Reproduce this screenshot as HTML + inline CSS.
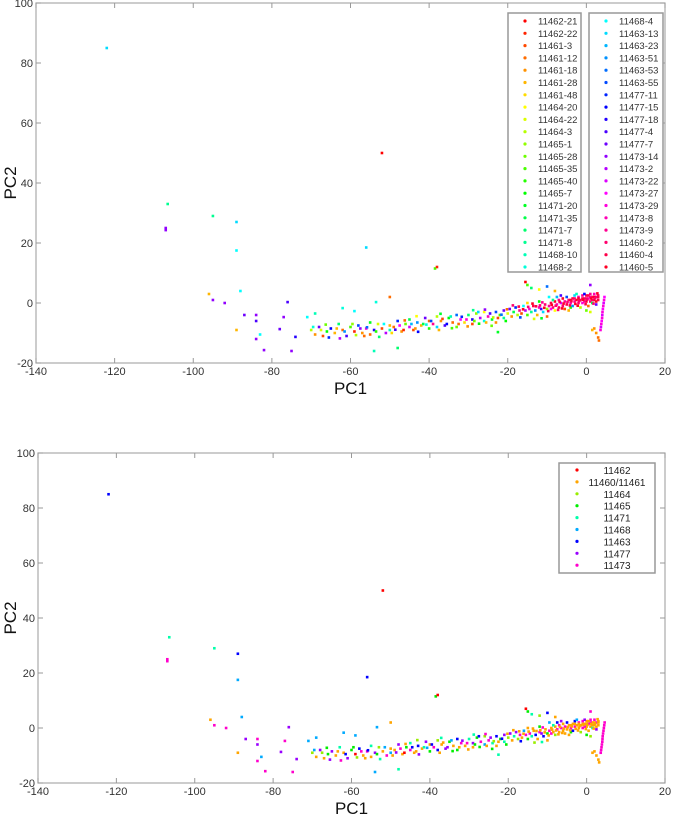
<!DOCTYPE html>
<html><head><meta charset="utf-8"><style>
html,body{margin:0;padding:0;background:#fff;}
svg{display:block;font-family:"Liberation Sans",sans-serif;}
</style></head><body>
<svg id="s" width="676" height="821" xmlns="http://www.w3.org/2000/svg"></svg>
<script>
const sampleNames=["11462-21","11462-22","11461-3","11461-12","11461-18","11461-28","11461-48","11464-20","11464-22","11464-3","11465-1","11465-28","11465-35","11465-40","11465-7","11471-20","11471-35","11471-7","11471-8","11468-10","11468-2","11468-4","11463-13","11463-23","11463-51","11463-53","11463-55","11477-11","11477-15","11477-18","11477-4","11477-7","11473-14","11473-2","11473-22","11473-27","11473-29","11473-8","11473-9","11460-2","11460-4","11460-5"];
const groupNames=["11462","11460/11461","11464","11465","11471","11468","11463","11477","11473"];
const groupColors=["#ff0000","#ffa500","#99ee00","#00ee00","#00ffaa","#00aaff","#0000ff","#9900ff","#ff00cc"];
const sampleGroup=[0,0,1,1,1,1,1,2,2,2,3,3,3,3,3,4,4,4,4,5,5,5,6,6,6,6,6,7,7,7,7,7,8,8,8,8,8,8,8,1,1,1];
const xTicks=[-140,-120,-100,-80,-60,-40,-20,0,20];
const yTicks=[-20,0,20,40,60,80,100];
const pts=[
[-122,85,22],[-106.5,33,18],[-107,25,32],[-107,24.3,32],[-95,29,18],[-89,27,22],[-89,17.5,21],[-88,4,21],[-96,3,5],[-95,1,32],[-92,0,32],[-84,-4,32],[-89,-9,5],[-84,-12,32],[-83,-10.5,21],
[-52,50,0],[-56,18.5,22],[-38.5,11.5,12],[-38,12,1],
[-87,-4,31],[-84,-6,30],[-82,-15.7,32],[-78,-8.7,31],[-77,-4.7,32],[-76,0.3,30],[-74,-11.3,29],[-75,-16,32],[-71,-4.7,21],[-69,-3.5,19],[-62,-1.7,20],[-59,-2.7,21],[-53.5,0.3,20],[-50,2,3],[-54,-16,19],[-48,-15,17],[-22.5,-9.7,15],
[-70,-9,9],[-69,-10.5,4],[-68,-8,31],[-67,-11,2],[-66,-9.5,14],[-65,-8.5,28],[-64,-10,5],[-63,-7,17],[-62,-9,3],[-61,-11,30],[-60,-8,12],[-59,-9.5,1],[-58,-7.5,26],[-57,-10,4],[-56,-8.5,36],[-55,-6.5,15],[-55,-10.5,3],[-54,-9,29],[-53,-7,8],[-52,-8.5,2],[-51,-10,33],[-50,-7.5,5],[-50,-9,19],[-49,-8,3],[-48,-6,27],[-47,-9.5,4],[-46,-7,11],[-45,-8,34],[-45,-5.5,16],[-44,-9,2],[-43,-6.5,24],[-42,-7.5,5],[-41,-5,31],[-40,-8.5,13],[-40,-6,3],[-39,-7,38],[-38,-4.5,9],[-38,-8,22],[-37,-6,4],[-36,-7.5,30],[-35,-5,14],[-34,-6.5,3],[-33,-4,25],[-33,-8,11],[-32,-5.5,35],[-31,-6.5,6],[-30,-4,17],[-29,-5.5,29],[-29,-7,2],[-28,-3.5,10],[-27,-5,33],[-26,-6,20],[-26,-3,7],[-25,-4.5,37],[-24,-5.5,15],[-23,-3,26],[-23,-6.5,4],[-22,-4,12],[-21,-2.5,31],[-21,-5,18],[-20,-3.5,8],
[-69.5,-8,20],[-67.5,-9,8],[-65.5,-11.5,27],[-63.5,-8.5,5],[-61.5,-9.5,24],[-59.5,-7,10],[-57.5,-8.5,32],[-56.5,-11,3],[-53.5,-9.5,13],[-51.5,-7,21],[-49.5,-10,6],[-47.5,-7.5,35],[-46.5,-9,1],[-44.5,-7,23],[-43.5,-8.5,4],[-41.5,-7,16],[-39.5,-6,26],[-37.5,-9,5],[-35.5,-7,28],[-34.5,-4.5,19],[-32.5,-7,3],[-30.5,-5.5,36],[-28.5,-6,11],[-27.5,-3,22],[-25.5,-6.5,5],[-24.5,-3.5,30],[-22.5,-5,2],[-20.5,-6,14],
[-66.3,-7.2,11],[-62.7,-11.8,33],[-58.6,-10.7,9],[-55.8,-8.1,25],[-52.7,-11.3,17],[-48.6,-8.9,30],[-46.2,-5.8,3],[-42.8,-9.6,28],[-40.7,-7.2,20],[-36.6,-5.3,2],[-34.2,-8.4,12],[-31.7,-4.6,27],[-30.2,-7.8,4],[-27.3,-6.9,14],[-25.8,-2.2,32],[-23.7,-4.8,9],[-21.6,-3.9,25],[-20.2,-2.1,3],[-43.2,-4.4,7],[-37.1,-3.6,15],[-28.8,-2.4,18],[-24.1,-7.6,11],
[-19.5,-2,31],[-19,-4.5,4],[-18.5,-3,16],[-18,-1.5,27],[-17.5,-4,9],[-17,-2.5,38],[-16.5,-3.5,2],[-16,-1,21],[-15.5,-2.5,33],[-15,-4,12],[-15,0,6],[-14.5,-2,36],[-14,-3,18],[-13.5,-1,40],[-13,-2.5,24],[-12.5,-4,5],[-12,-1.5,37],[-12,0.5,14],[-11.5,-2,30],[-11,-3,22],[-10.5,-0.5,39],[-10,-2,10],[-10,-4.5,3],
[-18.7,-0.8,39],[-17.2,-1.2,40],[-16.1,-2.1,41],[-14.8,-1.3,39],[-13.7,-0.2,41],[-12.8,-1.1,40],[-11.8,-0.8,39],[-11.2,0.2,38],[-10.7,-1.6,41],[-16.8,-4.8,26],[-13.3,-5.3,8],[-11.4,-5.1,15],
[-9.5,-1,38],[-9,0,40],[-9,-2,35],[-8.5,-1.5,39],[-8,0.5,41],[-8,-2.5,7],[-7.5,-0.5,37],[-7,1,38],[-7,-1.5,40],[-6.5,0,34],[-6,-1,39],[-6,1.5,41],[-5.5,0.5,38],[-5,-0.5,40],[-5,2,26],[-4.5,1,39],[-4,0,37],[-4,-1.5,13],[-3.5,1.5,40],[-3,0.5,38],[-3,2.5,22],[-2.5,1,41],[-2,0,39],[-2,2,37],[-1.5,1,40],[-1,2.5,38],[-1,0,36],[-0.5,1.5,39],[0,0.5,41],[0,2.5,40],[0.5,1.5,37],[1,3,38],[1,0.5,39],[1.5,2,40],[2,1,41],[2,3,37],[2.5,2,38],[3,1,40],[3,2.5,39],[-8.5,1,18],[-6.5,2.5,30],[-4.5,-2.5,5],[-3.5,-1,24],[-2.5,3,19],[-1.5,-1.5,9],[-0.5,3,28],[0.5,-1,3],[1.5,0,16],[2.5,-0.5,31],[-5.5,-2,2],[-7.5,2,23],[0,-2.5,11],[1,-3,8],[-9.5,2,21],
[-2,1.5,41],[-1,1.5,40],[0,1.5,39],[1,2,38],[2,2,41],[3,2,40],[-3,1.5,39],[-4,1,41],[0.5,2.5,40],[1.5,1,39],[2.5,0.5,41],[-0.5,0.5,38],
[-8.8,-0.6,41],[-7.8,-0.9,39],[-6.8,0.4,40],[-5.8,-0.2,41],[-4.8,0.3,39],[-3.8,0.6,40],[-2.8,-0.3,41],[-1.8,0.7,39],[-0.8,1.1,41],[0.2,1.1,39],[1.2,1.5,41],[2.2,1.6,39],[2.8,3.2,41],[-6.2,-1.8,41],[-4.2,-0.8,40],[-2.2,-0.9,41],[-0.2,-0.4,40],[1.8,-0.2,39],[-7.2,-2.3,39],[-9.7,-2.7,40],
[3.6,-9,36],[3.7,-8,34],[3.8,-7,36],[3.9,-6,35],[4,-5,36],[4.05,-4,34],[4.1,-3,36],[4.2,-2,35],[4.3,-1,36],[4.4,0,34],[4.5,1,36],[4.6,2,35],
[2,-8.5,4],[2.5,-10,4],[3,-11.5,3],[3.2,-12.5,3],[1.5,-9,5],
[-15.5,7,0],[-15,6,12],[-10,5.5,25],[-14,5,17],[-8,4,5],[1,6,32],[-12,4.5,7]
];
const NS="http://www.w3.org/2000/svg";
const svg=document.getElementById('s');
function mk(tag,attrs,parent){const e=document.createElementNS(NS,tag);for(const k in attrs)e.setAttribute(k,attrs[k]);(parent||svg).appendChild(e);return e;}
function sampleColor(i){return "hsl("+(i*360/42)+",100%,50%)";}
function drawPlot(cfg){
  const g=mk('g',{});
  
  
  const xs=v=>cfg.l+(v+140)/160*(cfg.r-cfg.l);
  const ys=v=>cfg.b-(v+20)/120*(cfg.b-cfg.t);
  const frame=mk('rect',{x:cfg.l,y:cfg.t,width:cfg.r-cfg.l,height:cfg.b-cfg.t,fill:'none',stroke:'#aaa','stroke-width':1.2},g);
  
  
  xTicks.forEach(v=>{
    const x=xs(v);
    mk('line',{x1:x,y1:cfg.b,x2:x,y2:cfg.b-5,stroke:'#999'},g);
    mk('line',{x1:x,y1:cfg.t,x2:x,y2:cfg.t+5,stroke:'#999'},g);
    const t=mk('text',{x:x,y:cfg.b+12,'font-size':11,'text-anchor':'middle',fill:'#333'},g);
    t.textContent=v;
    
    
  });
  yTicks.forEach(v=>{
    const y=ys(v);
    mk('line',{x1:cfg.l,y1:y,x2:cfg.l+5,y2:y,stroke:'#999'},g);
    mk('line',{x1:cfg.r,y1:y,x2:cfg.r-5,y2:y,stroke:'#999'},g);
    const t=mk('text',{x:cfg.l-3,y:y+4,'font-size':11,'text-anchor':'end',fill:'#333'},g);
    t.textContent=v;
    
    
  });
  const xl=mk('text',{x:(cfg.l+cfg.r)/2,y:cfg.b+31,'font-size':17,'text-anchor':'middle',fill:'#111'},g);
  xl.textContent='PC1';
  
  
  const yx=16, yy=(cfg.t+cfg.b)/2;
  const yl=mk('text',{x:yx,y:yy,'font-size':17,'text-anchor':'middle',fill:'#111',transform:'rotate(-90 '+yx+' '+yy+')'},g);
  yl.textContent='PC2';
  
  
  pts.forEach(p=>{
    const c=mk('rect',{x:xs(p[0])-1.3,y:ys(p[1])-1.3,width:2.6,height:2.6,fill:cfg.color(p[2])},g);
    
    
  });
  return g;
}
drawPlot({name:'top-scatter-by-sample',l:36,r:665,t:3,b:363,color:s=>sampleColor(s)});
drawPlot({name:'bottom-scatter-by-group',l:38,r:665,t:453,b:783,color:s=>groupColors[sampleGroup[s]]});
function legendBox(x,y,w,h,name){
  const r=mk('rect',{x:x,y:y,width:w,height:h,fill:'#fff',stroke:'#999','stroke-width':1.5});
  
  
}
legendBox(508,13,73,259,'legend-box-1');
legendBox(589,13,74,259,'legend-box-2');
sampleNames.forEach((n,i)=>{
  const col=i<21?0:1, row=i%21;
  const bx=col?606:525, ty=21+row*12.3;
  mk('circle',{cx:bx,cy:ty,r:1.6,fill:sampleColor(i)});
  const t=mk('text',{x:bx+13,y:ty+3.5,'font-size':9.5,fill:'#333'});
  t.textContent=n;
  
  
});
legendBox(559,463,96,110,'group-legend-box');
groupNames.forEach((n,i)=>{
  const ty=470+i*11.9;
  mk('circle',{cx:577,cy:ty,r:1.6,fill:groupColors[i]});
  const t=mk('text',{x:617,y:ty+4,'font-size':10,'text-anchor':'middle',fill:'#222'});
  t.textContent=n;
  
  
});
</script>
</body></html>
